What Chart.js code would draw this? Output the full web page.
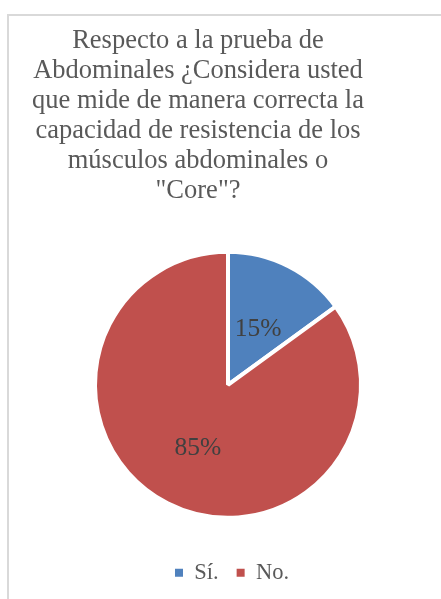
<!DOCTYPE html>
<html><head><meta charset="utf-8">
<script src="https://cdn.jsdelivr.net/npm/chart.js@4/dist/chart.umd.min.js"></script>
<style>
html,body{margin:0;padding:0;background:#fff;overflow:hidden}
#wrap{position:relative;width:441px;height:599px}
#frame{position:absolute;left:7px;top:14px;width:520px;height:700px;border:2px solid #d9d9d9;box-sizing:border-box}
canvas{position:absolute;left:0;top:0}
</style></head><body>
<div id="wrap"><div id="frame"></div><canvas id="c" width="441" height="599"></canvas></div>
<script>
const categories = ['Sí.', 'No.'];
const percentages = [15, 85];
const sliceColors = ['#4f81bd', '#c0504d'];
const titleLines = [
  'Respecto a la prueba de',
  'Abdominales ¿Considera usted',
  'que mide de manera correcta la',
  'capacidad de resistencia de los',
  'músculos abdominales o',
  '"Core"?'
];

const serif = '"Liberation Serif", "Times New Roman", serif';

// percentage text at the middle of each slice
const sliceLabels = {
  id: 'sliceLabels',
  afterDatasetsDraw(chart) {
    const ctx = chart.ctx;
    const meta = chart.getDatasetMeta(0);
    ctx.save();
    ctx.font = '25.5px ' + serif;
    ctx.fillStyle = '#404040';
    ctx.textAlign = 'center';
    ctx.textBaseline = 'middle';
    meta.data.forEach((arc, i) => {
      const p = arc.tooltipPosition();
      ctx.fillText(percentages[i] + '%', p.x, p.y + 4);
    });
    ctx.restore();
  }
};

// title sits a little left of the pie, legend a little right
const blockShift = {
  id: 'blockShift',
  afterLayout(chart) {
    const t = chart.titleBlock;
    t.left -= 30; t.right -= 30;
    const l = chart.legend;
    l.left += 4; l.right += 4;
  }
};

const basePieLabels = Chart.overrides.pie.plugins.legend.labels.generateLabels;

new Chart(document.getElementById('c'), {
  type: 'pie',
  data: {
    labels: categories,
    datasets: [{
      data: percentages,
      backgroundColor: sliceColors,
      borderColor: '#ffffff',
      borderWidth: 4
    }]
  },
  options: {
    responsive: false,
    animation: false,
    radius: 133,
    layout: { padding: { left: 15, right: 0, top: 0, bottom: 5 } },
    plugins: {
      tooltip: { enabled: false },
      title: {
        display: true,
        text: titleLines,
        color: '#595959',
        font: { family: serif, size: 26.5, weight: 'normal', lineHeight: 1.13 },
        padding: { top: 26, bottom: 20.5 }
      },
      legend: {
        position: 'bottom',
        fullSize: false,
        labels: {
          color: '#595959',
          font: { family: serif, size: 22.5 },
          boxWidth: 8,
          boxHeight: 8,
          padding: 18,
          generateLabels(chart) {
            return basePieLabels(chart).map(item => Object.assign(item, { lineWidth: 0, strokeStyle: 'transparent' }));
          }
        }
      }
    }
  },
  plugins: [sliceLabels, blockShift]
});
</script>
</body></html>
